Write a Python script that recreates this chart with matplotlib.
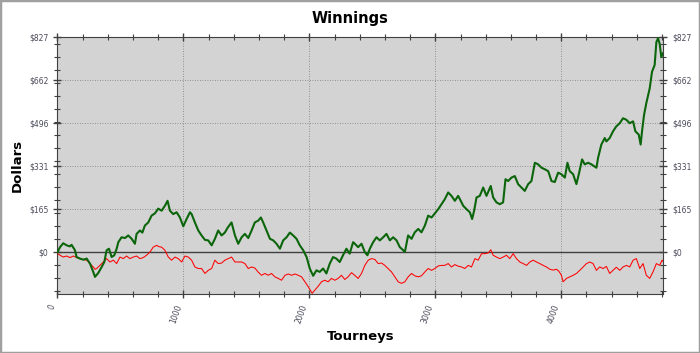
import matplotlib
matplotlib.use("Agg")
import matplotlib.pyplot as plt
from matplotlib.ticker import MultipleLocator, FixedLocator, FuncFormatter
from matplotlib.patches import Rectangle

# green line: (tourney, dollars)
green_x = [0, 20, 46, 73, 99, 112, 139, 152, 179, 205, 232, 258, 284, 298, 324, 351, 372, 390, 409, 430,
           451, 470, 483, 509, 536, 562, 589, 615, 628, 655, 674, 694, 721, 747, 774, 800, 827, 853, 874, 893,
           919, 946, 972, 999, 1025, 1052, 1065, 1091, 1118, 1144, 1171, 1197, 1224, 1250, 1276, 1303, 1329, 1350, 1382, 1409,
           1435, 1462, 1488, 1515, 1541, 1567, 1594, 1615, 1633, 1660, 1687, 1713, 1739, 1766, 1792, 1819, 1845, 1871, 1898, 1924,
           1951, 1978, 2003, 2030, 2056, 2082, 2109, 2135, 2162, 2188, 2214, 2241, 2267, 2294, 2320, 2347, 2361, 2387, 2414, 2440,
           2461, 2480, 2506, 2533, 2559, 2586, 2612, 2639, 2665, 2692, 2718, 2745, 2758, 2784, 2811, 2837, 2864, 2890, 2917, 2943,
           2970, 2996, 3023, 3049, 3075, 3102, 3128, 3155, 3181, 3208, 3221, 3247, 3274, 3292, 3308, 3327, 3353, 3380, 3406, 3440,
           3459, 3485, 3512, 3538, 3557, 3578, 3604, 3631, 3657, 3684, 3710, 3737, 3763, 3790, 3816, 3843, 3869, 3896, 3922, 3948,
           3975, 4001, 4028, 4049, 4067, 4094, 4120, 4139, 4165, 4186, 4213, 4239, 4279, 4292, 4318, 4345, 4358, 4384, 4411, 4437,
           4464, 4490, 4517, 4543, 4570, 4588, 4615, 4630, 4641, 4657, 4675, 4702, 4720, 4741, 4755, 4768, 4781, 4794, 4808]
green_y = [0, 20, 35, 27, 23, 29, 8, -18, -24, -28, -24, -43, -75, -94, -79, -56, -37, 8, 14, -18,
           -11, 14, 39, 58, 55, 65, 52, 33, 71, 84, 76, 103, 115, 141, 150, 168, 160, 179, 198, 160,
           147, 154, 134, 100, 128, 154, 147, 115, 84, 65, 48, 46, 27, 52, 84, 65, 76, 94, 115, 65,
           33, 58, 71, 55, 84, 115, 122, 134, 115, 84, 52, 46, 33, 14, 46, 58, 76, 65, 52, 27,
           8, -18, -62, -90, -69, -75, -62, -81, -43, -18, -24, -37, -11, 14, -5, 39, 33, 20, 33, 1,
           -11, 14, 39, 58, 46, 58, 71, 46, 58, 46, 20, 8, 1, 65, 52, 77, 90, 77, 103, 141,
           134, 150, 166, 185, 204, 230, 217, 198, 217, 192, 179, 166, 154, 128, 160, 211, 217, 249, 217, 255,
           211, 192, 185, 192, 281, 274, 287, 293, 262, 249, 236, 262, 274, 344, 338, 325, 319, 312, 274, 270,
           306, 300, 287, 344, 312, 300, 262, 300, 357, 338, 344, 338, 325, 363, 414, 439, 426, 439, 465, 484,
           496, 515, 509, 496, 503, 465, 452, 414, 465, 528, 573, 630, 693, 719, 808, 822, 801, 750, 765]

# red line
red_x = [0, 20, 46, 73, 99, 126, 152, 179, 205, 232, 258, 284, 298, 311, 337, 364, 390, 417, 443, 470,
         496, 522, 549, 575, 602, 628, 655, 681, 707, 734, 760, 787, 805, 827, 853, 880, 906, 933, 959, 986,
         1012, 1039, 1065, 1091, 1118, 1144, 1171, 1197, 1224, 1250, 1276, 1303, 1329, 1356, 1382, 1409, 1435, 1462, 1488, 1515,
         1541, 1567, 1594, 1620, 1647, 1673, 1700, 1726, 1753, 1779, 1806, 1832, 1859, 1885, 1911, 1938, 1964, 1991, 2022, 2043,
         2070, 2096, 2122, 2149, 2175, 2202, 2228, 2255, 2281, 2307, 2334, 2360, 2387, 2414, 2440, 2467, 2493, 2520, 2546, 2573,
         2599, 2625, 2652, 2679, 2705, 2731, 2758, 2784, 2811, 2837, 2864, 2890, 2917, 2943, 2970, 2996, 3023, 3049, 3075, 3102,
         3128, 3155, 3181, 3208, 3234, 3261, 3287, 3314, 3340, 3367, 3393, 3420, 3440, 3459, 3485, 3512, 3538, 3565, 3591, 3618,
         3644, 3671, 3697, 3724, 3750, 3777, 3803, 3829, 3856, 3882, 3909, 3935, 3962, 3980, 4001, 4014, 4041, 4067, 4094, 4120,
         4147, 4173, 4200, 4226, 4252, 4279, 4305, 4332, 4358, 4384, 4411, 4437, 4464, 4490, 4517, 4543, 4570, 4596, 4623, 4649,
         4675, 4702, 4728, 4755, 4781, 4800, 4812]
red_y = [-5, -11, -18, -14, -20, -14, -20, -24, -28, -30, -43, -56, -65, -62, -50, -37, -24, -37, -30, -43,
         -18, -24, -14, -24, -18, -14, -24, -20, -11, 1, 20, 27, 22, 20, 8, -18, -30, -18, -24, -37,
         -14, -18, -30, -56, -62, -62, -81, -69, -62, -30, -43, -41, -30, -24, -18, -37, -37, -37, -43, -62,
         -56, -60, -76, -88, -81, -88, -81, -94, -100, -107, -88, -83, -88, -83, -88, -94, -113, -132, -157, -145,
         -130, -113, -107, -113, -100, -107, -100, -88, -104, -94, -78, -88, -100, -81, -50, -30, -24, -27, -43, -41,
         -50, -62, -75, -94, -113, -119, -113, -94, -81, -90, -94, -90, -75, -62, -69, -62, -52, -50, -50, -43,
         -56, -47, -53, -56, -62, -50, -56, -24, -30, -5, -5, -2, 10, -11, -18, -24, -18, -11, -24, -5,
         -24, -37, -43, -50, -37, -30, -37, -43, -50, -56, -65, -68, -65, -72, -88, -113, -100, -94, -88, -81,
         -69, -56, -43, -37, -43, -69, -56, -62, -54, -81, -69, -57, -69, -56, -50, -56, -30, -24, -62, -43,
         -88, -100, -75, -43, -50, -30, -37]

y_ticks = [0, 165, 331, 496, 662, 827]
x_ticks = [0, 1000, 2000, 3000, 4000]

fig = plt.figure(figsize=(7, 3.53), dpi=100)
fig.patches.append(Rectangle((0, 0), 1, 1, transform=fig.transFigure, fill=False,
                             edgecolor="#a0a0a0", linewidth=2.5))
ax = fig.add_axes([0.0821, 0.1663, 0.8655, 0.7289])
ax.set_facecolor("#d3d3d3")

ax.axhline(0, color="#404040", lw=1, zorder=2)
ax.plot(red_x, red_y, color="#ff0000", lw=0.75, zorder=3)
ax.plot(green_x, green_y, color="#0b650b", lw=1.5, zorder=4)

ax.set_xlim(0, 4810)
ax.set_ylim(-161, 827)

ax.yaxis.set_major_locator(FixedLocator(y_ticks))
ax.yaxis.set_minor_locator(MultipleLocator(50))
ax.yaxis.set_major_formatter(FuncFormatter(lambda v, p: "$%d" % v))
ax.xaxis.set_major_locator(FixedLocator(x_ticks))
ax.xaxis.set_minor_locator(MultipleLocator(200))

ax.grid(True, which="major", color="#7a7a7a", linestyle=(0, (1, 2)), lw=0.6)
ax.set_axisbelow(True)

ax.tick_params(which="both", direction="inout", colors="#404040", top=True, right=True,
               labelright=True, labelsize=5.5, labelcolor="#4a4a5a")
ax.tick_params(which="major", length=6, width=1)
ax.tick_params(which="minor", length=4, width=0.8)
for lab in ax.get_xticklabels():
    lab.set_rotation(70)
    lab.set_ha("right")
for s in ax.spines.values():
    s.set_color("#404040")

fig.text(0.5, 0.948, "Winnings", ha="center", va="center", fontsize=10.5, fontweight="bold")
ax.set_xlabel("Tourneys", fontsize=9.5, fontweight="bold", labelpad=4)
fig.text(0.025, 0.53, "Dollars", rotation=90, ha="center", va="center", fontsize=9.5, fontweight="bold")

fig.savefig("out.png", dpi=100)
